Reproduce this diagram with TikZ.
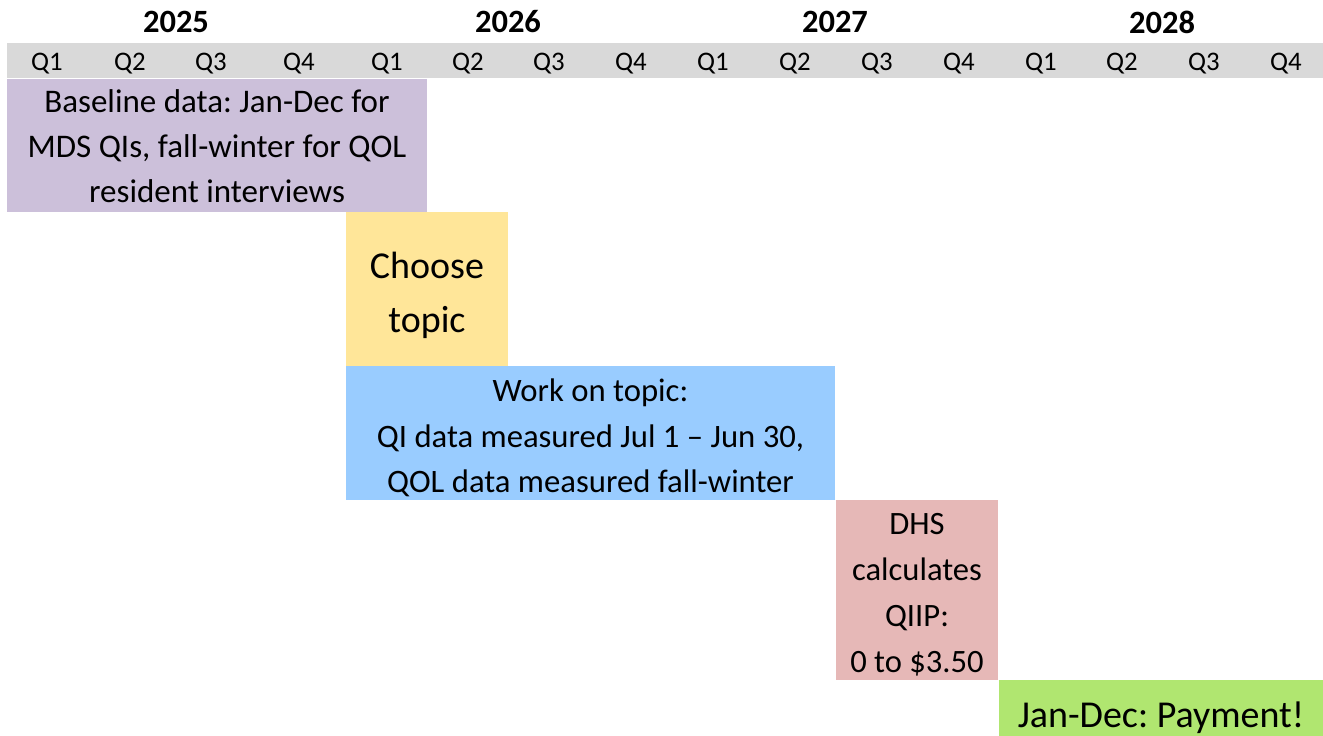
\documentclass[tikz,border=0pt]{standalone}
\usepackage{fontspec}
\setmainfont{Carlito}
\frenchspacing
\definecolor{szary}{RGB}{217,217,217}
\definecolor{fiolet}{RGB}{204,192,218}
\definecolor{zolty}{RGB}{255,230,153}
\definecolor{niebieski}{RGB}{153,204,255}
\definecolor{rozowy}{RGB}{230,184,183}
\definecolor{zielony}{RGB}{176,230,112}
% tekst obniżony o połowę #1 względem środka bloku
\newcommand{\obniz}[3]{\raisebox{0pt}[\dimexpr\height+#1\relax][\depth]{\parbox{#2}{\centering #3}}}

\begin{document}
\begin{tikzpicture}[x=1pt, y=-1pt,
		blok/.style={fill=#1, align=center, inner sep=0pt},
		kwartal/.style={font=\fontsize{26.8}{26.8}\selectfont, inner sep=0pt},
		rok/.style={font=\bfseries\fontsize{32.5}{32.5}\selectfont, inner sep=0pt}]
		\clip (0,0) rectangle (1323,736);

		% Nagłówek
		\node[fill=szary, minimum width=1316pt, minimum height=35pt, inner sep=0pt] (G) at (665,60.5) {};
		\node[rok] (Y1) at (176,22) {2025};
		\node[rok] (Y2) at (508,22) {2026};
		\node[rok] (Y3) at (835,22) {2027};
		\node[rok] (Y4) at (1162,22) {2028};
		\foreach \x/\q [count=\i] in {47/1,130/2,211/3,299/4,387/1,468/2,549/3,631/4,713/1,795/2,877/3,959/4,1041/1,1122/2,1204/3,1286/4}
			\node[kwartal] (q\i) at (\x,64) {Q\q};

		% Bloki
		\node[blok=fiolet, minimum width=420pt, minimum height=133pt, font=\fontsize{33}{45}\selectfont] (A) at (217,145.5)
			{\obniz{2pt}{410pt}{Baseline data: Jan-Dec for\\MDS QIs, fall-winter for QOL\\resident interviews}};
		\node[blok=zolty, minimum width=162pt, minimum height=154pt, font=\fontsize{38}{54}\selectfont] (B) at (427,289)
			{\obniz{12pt}{150pt}{Choose\\topic}};
		\node[blok=niebieski, minimum width=489pt, minimum height=134pt, font=\fontsize{32.7}{45.5}\selectfont] (C) at (590.5,433)
			{\obniz{10pt}{480pt}{Work on topic:\\QI data measured Jul 1 -- Jun 30,\\QOL data measured fall-winter}};
		\node[blok=rozowy, minimum width=162pt, minimum height=180pt, font=\fontsize{32.6}{46}\selectfont] (D) at (917,590)
			{\obniz{10pt}{155pt}{DHS\\calculates\\QIIP:\\0 to \$3.50}};
		\node[blok=zielony, minimum width=324pt, minimum height=70pt, font=\fontsize{38}{38}\selectfont] (E) at (1161,715)
			{\obniz{6pt}{320pt}{Jan-Dec: Payment!}};

	\end{tikzpicture}
\end{document}
